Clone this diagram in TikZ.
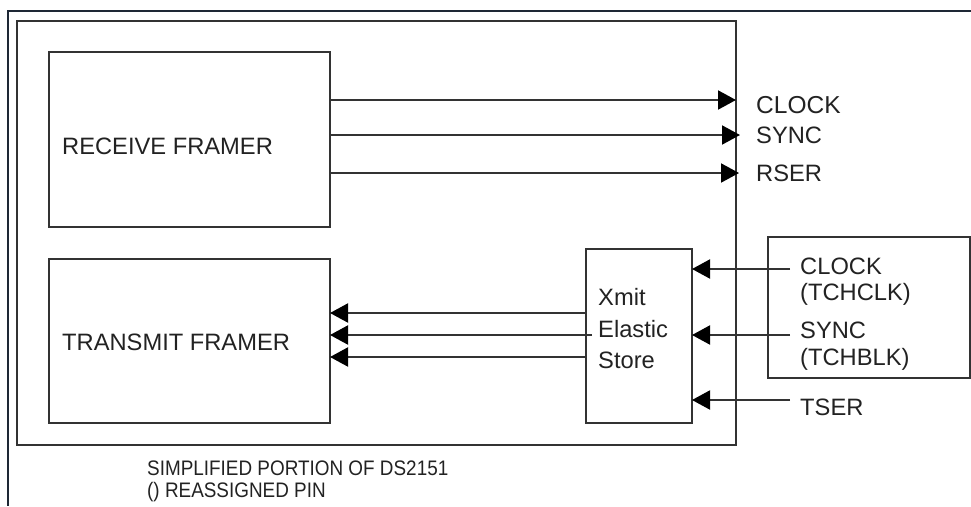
\documentclass[tikz,border=0pt]{standalone}
\usepackage{fontspec}
\setmainfont{Liberation Sans}
\newfontfamily\condfont[FakeStretch=0.9]{Liberation Sans}
\usetikzlibrary{arrows.meta}
\definecolor{linec}{HTML}{333333}
\definecolor{framec}{HTML}{1E2835}
\definecolor{textc}{HTML}{222222}
\tikzset{
  box/.style={draw=linec, line width=2pt, inner sep=0pt, outer sep=0pt, fill=none},
  arr/.style={draw=linec, line width=2pt, -{Triangle[length=18pt,width=19pt,color=black]}},
  lbl/.style={anchor=base west, inner sep=0pt, text=textc, font=\fontsize{23.7}{26}\selectfont},
  note/.style={anchor=base west, inner sep=0pt, text=textc, font=\condfont\fontsize{21}{22}\selectfont},
}
\begin{document}
\begin{tikzpicture}[x=1pt,y=-1pt]
\useasboundingbox (0,0) rectangle (971,506);
% outer dark frame lines
\draw[framec, line width=2.5pt] (971,11) -- (8,11) -- (8,506);
% chip boundary
\node[box, minimum width=719pt, minimum height=424pt] (chip) at (376.5,233) {};
% receive framer
\node[box, minimum width=281pt, minimum height=175pt] (rx) at (189.5,139.5) {};
\node[lbl] (rxt) at (62,154) {RECEIVE FRAMER};
% transmit framer
\node[box, minimum width=281pt, minimum height=164pt] (tx) at (189.5,341) {};
\node[lbl] (txt) at (62,350) {TRANSMIT FRAMER};
% xmit elastic store
\node[box, minimum width=106pt, minimum height=174pt] (xs) at (639,336) {};
\node[lbl] (xs1) at (598,305) {Xmit};
\node[lbl] (xs2) at (598,337) {Elastic};
\node[lbl] (xs3) at (598,368) {Store};
% external box
\node[box, minimum width=202pt, minimum height=141pt] (ext) at (869,307.5) {};
% receive outputs
\draw[arr] (rx.east |- 0,100) -- (chip.east |- 0,100);
\draw[arr] (rx.east |- 0,135) -- ([xshift=4pt]chip.east |- 0,135);
\draw[arr] (rx.east |- 0,173) -- ([xshift=3pt]chip.east |- 0,173);
\node[lbl, font=\fontsize{24.5}{26}\selectfont] (o1) at (756,113) {CLOCK};
\node[lbl] (o2) at (756,143) {SYNC};
\node[lbl] (o3) at (756,181) {RSER};
% transmit inputs
\draw[arr] (xs.west |- 0,313) -- (tx.east |- 0,313);
\draw[arr] ([xshift=6pt]xs.west |- 0,335) -- (tx.east |- 0,335);
\draw[arr] (xs.west |- 0,357) -- (tx.east |- 0,357);
% external inputs
\coordinate (i1) at (790,269);
\coordinate (i2) at (790,335);
\coordinate (i3) at (790,400);
\draw[arr] (i1) -- (xs.east |- i1);
\draw[arr] (i2) -- (xs.east |- i2);
\draw[arr] (i3) -- (xs.east |- i3);
\node[lbl] (e1) at (800,274) {CLOCK};
\node[lbl] (e2) at (800,300) {(TCHCLK)};
\node[lbl] (e3) at (800,338) {SYNC};
\node[lbl] (e4) at (800,365) {(TCHBLK)};
\node[lbl] (e5) at (800,415) {TSER};
% notes
\node[note] (n1) at (147,475) {SIMPLIFIED PORTION OF DS2151};
\node[note] (n2) at (147,497) {() REASSIGNED PIN};
\end{tikzpicture}
\end{document}
